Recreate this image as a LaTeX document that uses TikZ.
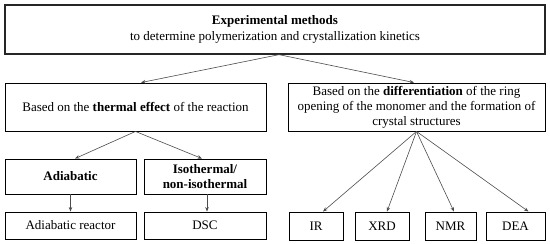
\documentclass[tikz,border=0pt]{standalone}
\usepackage{fontspec}
\setmainfont{Liberation Serif}
\usetikzlibrary{arrows.meta}
\begin{document}
\begin{tikzpicture}[x=1pt,y=-1pt,
  box/.style={draw=black, line width=0.9pt, inner sep=0pt, align=center, font=\fontsize{13}{15}\selectfont},
  conn/.style={draw=black!70, line width=0.6pt, -{Stealth[length=4.5pt,width=3.5pt]}}]
\useasboundingbox (0,0) rectangle (550,244);
\node[box, draw=black!85, line width=1.3pt, minimum width=540pt, minimum height=49pt, font=\fontsize{13}{16.5}\selectfont] (top) at (275,29.5)
  {\textbf{Experimental methods}\\to determine polymerization and crystallization kinetics};
\node[box, minimum width=261pt, minimum height=48pt] (left) at (135.5,107)
  {Based on the \textbf{thermal effect} of the reaction};
\node[box, minimum width=257pt, minimum height=48pt] (right) at (416.5,107)
  {Based on the \textbf{differentiation} of the ring\\opening of the monomer and the formation of\\crystal structures};
\node[box, minimum width=131pt, minimum height=35pt] (adi) at (70.5,176.5) {\textbf{Adiabatic}};
\node[box, minimum width=122pt, minimum height=35pt] (iso) at (205,176.5) {\textbf{Isothermal/}\\\textbf{non-isothermal}};
\node[box, minimum width=131pt, minimum height=27pt] (adr) at (70.5,225.5) {Adiabatic reactor};
\node[box, minimum width=122pt, minimum height=27pt] (dsc) at (205,225.5) {DSC};
\node[box, minimum width=54pt, minimum height=28pt] (ir) at (316,226) {IR};
\node[box, minimum width=54pt, minimum height=28pt] (xrd) at (382,226) {XRD};
\node[box, minimum width=51pt, minimum height=28pt] (nmr) at (450.5,226) {NMR};
\node[box, minimum width=59pt, minimum height=28pt] (dea) at (515.5,226) {DEA};
\coordinate (apex) at ([xshift=4pt]top.south);
\draw[conn] (apex) -- ([xshift=5.5pt]left.north);
\draw[conn] (apex) -- ([xshift=-2.5pt]right.north);
\draw[conn] (left.south) -- ([xshift=4.5pt]adi.north);
\draw[conn] (left.south) -- ([xshift=-3pt]iso.north);
\draw[conn] (adi.south) -- (adr.north);
\draw[conn] ([xshift=2pt]iso.south) -- ([xshift=2pt]dsc.north);
\draw[conn] (right.south) -- ([xshift=7pt]ir.north);
\draw[conn] (right.south) -- ([xshift=5pt]xrd.north);
\draw[conn] (right.south) -- ([xshift=3.5pt]nmr.north);
\draw[conn] (right.south) -- ([xshift=13pt]dea.north);
\end{tikzpicture}
\end{document}
